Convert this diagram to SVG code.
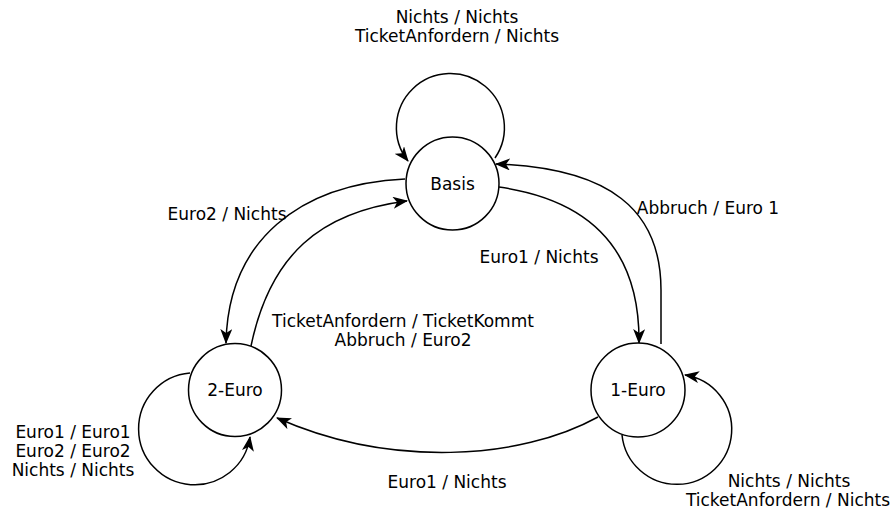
<svg xmlns="http://www.w3.org/2000/svg" width="895" height="513" viewBox="0 0 895 513">
  <style>
    .state { fill: #ffffff; stroke: #000000; stroke-width: 1.5; }
    .edge { fill: none; stroke: #000000; stroke-width: 1.5; marker-end: url(#arrow); }
    text { font-family: "DejaVu Sans", "Liberation Sans", sans-serif; font-size: 17px; fill: #000000; text-anchor: middle; }
  </style>
  <defs>
    <marker id="arrow" viewBox="0 0 15 12" refX="14" refY="6" markerWidth="15" markerHeight="12" markerUnits="userSpaceOnUse" orient="auto">
      <path d="M0,0 L15,6 L0,12 L4,6 Z" fill="#000000"/>
    </marker>
  </defs>

  <rect width="895" height="513" fill="#ffffff"/>

  <!-- transitions -->
  <g id="connectors">
    <!-- Basis self-loop -->
    <path class="edge" d="M 495,158 A 54 54 0 1 0 408,161"/>
    <!-- 1-Euro to Basis (Abbruch / Euro 1) -->
    <path class="edge" d="M 661,344 L 661,290 C 661,210 610,168 496,164"/>
    <!-- Basis to 1-Euro (Euro1 / Nichts) -->
    <path class="edge" d="M 499,187 C 590,200 640,250 639,343"/>
    <!-- Basis to 2-Euro (Euro2 / Nichts) -->
    <path class="edge" d="M 405,179 C 300,184 228,240 226,343"/>
    <!-- 2-Euro to Basis (TicketAnfordern / TicketKommt, Abbruch / Euro2) -->
    <path class="edge" d="M 251,346 C 270,255 320,212 407,201"/>
    <!-- 1-Euro to 2-Euro (Euro1 / Nichts) -->
    <path class="edge" d="M 598,417 C 520,460 390,468 277,418"/>
    <!-- 2-Euro self-loop -->
    <path class="edge" d="M 190,373 A 56 56 0 1 0 250,437"/>
    <!-- 1-Euro self-loop -->
    <path class="edge" d="M 622,435 A 55 55 0 1 0 685,375"/>
  </g>

  <!-- states -->
  <g id="basis">
    <circle class="state" cx="452.5" cy="183.5" r="46.5"/>
    <text x="452.5" y="189.5">Basis</text>
  </g>
  <g id="zwei-euro">
    <circle class="state" cx="235" cy="390" r="46.5"/>
    <text x="235" y="396">2-Euro</text>
  </g>
  <g id="ein-euro">
    <circle class="state" cx="638" cy="390" r="47"/>
    <text x="638" y="396">1-Euro</text>
  </g>

  <!-- transition labels -->
  <g id="labels">
    <text x="457" y="23">Nichts / Nichts</text>
    <text x="457" y="42">TicketAnfordern / Nichts</text>
    <text x="227" y="220">Euro2 / Nichts</text>
    <text x="708" y="214">Abbruch / Euro 1</text>
    <text x="539" y="263">Euro1 / Nichts</text>
    <text x="403" y="327">TicketAnfordern / TicketKommt</text>
    <text x="403" y="346">Abbruch / Euro2</text>
    <text x="73" y="438">Euro1 / Euro1</text>
    <text x="73" y="457">Euro2 / Euro2</text>
    <text x="73" y="476">Nichts / Nichts</text>
    <text x="447" y="488">Euro1 / Nichts</text>
    <text x="789" y="487">Nichts / Nichts</text>
    <text x="788" y="506">TicketAnfordern / Nichts</text>
  </g>
</svg>
